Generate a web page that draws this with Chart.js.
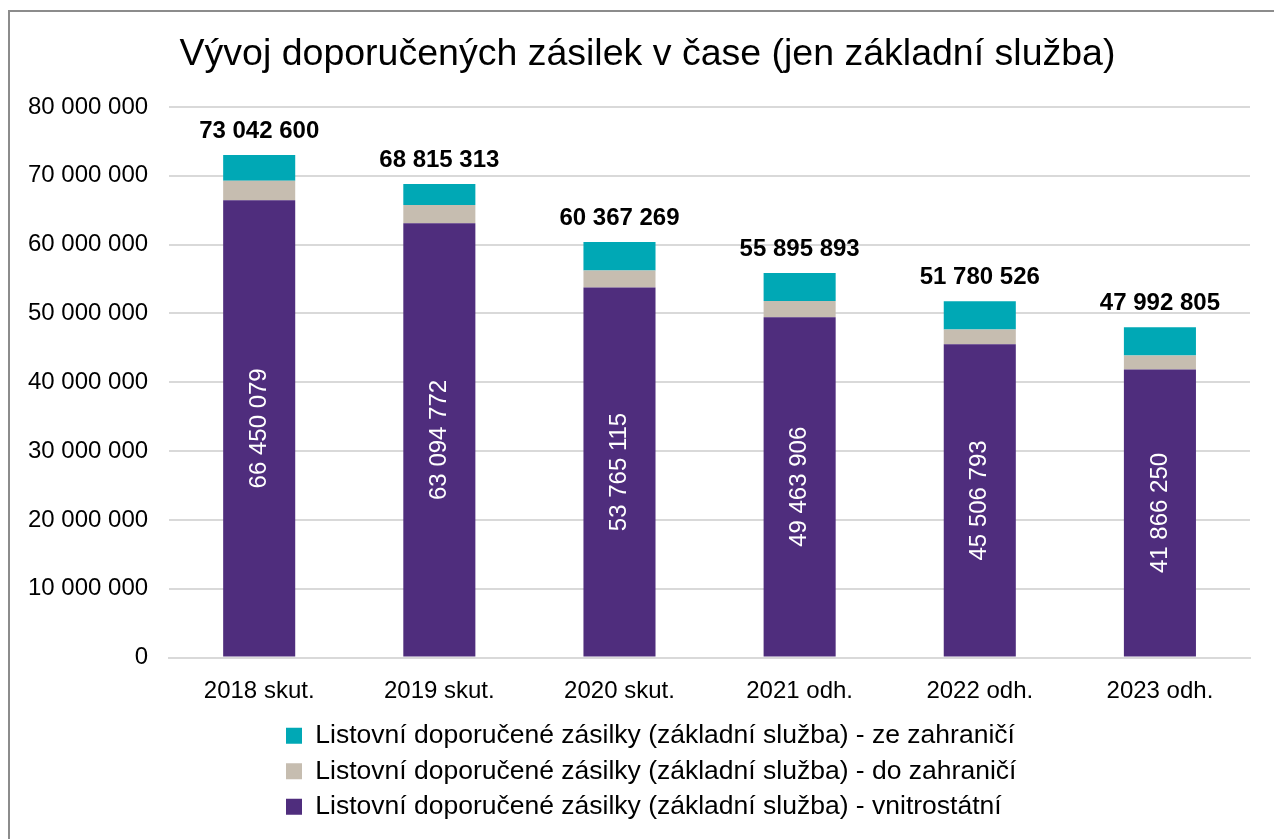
<!DOCTYPE html>
<html>
<head>
<meta charset="utf-8">
<script src="https://cdn.jsdelivr.net/npm/chart.js@4.4.0/dist/chart.umd.min.js"></script>
<style>
	html, body { margin: 0; padding: 0; background: #fff; overflow: hidden; }
	#frame {
		position: absolute; left: 8px; top: 10px; width: 1266px; height: 829px;
		border-top: 2px solid #8c8c8c; border-left: 2px solid #8c8c8c;
		box-sizing: border-box;
	}
	#barChart { position: absolute; left: 0; top: 0; }
</style>
</head>
<body>
<div id="frame"></div>
<canvas id="barChart" width="1274" height="839"></canvas>
<script>
const categories = ['2018 skut.', '2019 skut.', '2020 skut.', '2021 odh.', '2022 odh.', '2023 odh.'];
const vnitrostatni = [66450079, 63094772, 53765115, 49463906, 45506793, 41866250];
const doZahranici = [2840000, 2650000, 2460000, 2330000, 2160000, 2010000];
const zeZahranici = [3750000, 3070000, 4140000, 4100000, 4110000, 4120000];
const totals = [73042600, 68815313, 60367269, 55895893, 51780526, 47992805];

const fmt = v => String(Math.round(v)).replace(/\B(?=(\d{3})+(?!\d))/g, ' ');
const FONT = '"Liberation Sans", Arial, sans-serif';

const labelPlugin = {
	id: 'labels',
	afterLayout(chart) {
		// title centred a bit more to the right, legend rows left-aligned
		chart.titleBlock.left = 45;
		chart.titleBlock.right = 1250;
		chart.legend.left = 277;
	},
	afterDatasetsDraw(chart) {
		const ctx = chart.ctx;
		const purple = chart.getDatasetMeta(0);
		const top = chart.getDatasetMeta(2);
		ctx.save();
		ctx.textAlign = 'center';
		ctx.textBaseline = 'middle';
		purple.data.forEach((bar, i) => {
			const cy = (bar.y + bar.base) / 2;
			ctx.save();
			ctx.translate(bar.x, cy);
			ctx.rotate(-Math.PI / 2);
			ctx.fillStyle = '#ffffff';
			ctx.font = '24px ' + FONT;
			ctx.fillText(fmt(vnitrostatni[i]), 0, 0);
			ctx.restore();
		});
		top.data.forEach((bar, i) => {
			ctx.fillStyle = '#000000';
			ctx.font = 'bold 24px ' + FONT;
			ctx.fillText(fmt(totals[i]), bar.x, bar.y - 24);
		});
		ctx.restore();
	}
};

new Chart(document.getElementById('barChart'), {
	type: 'bar',
	data: {
		labels: categories,
		datasets: [
			{
				label: 'Listovní doporučené zásilky (základní služba) - vnitrostátní',
				data: vnitrostatni,
				backgroundColor: '#4f2d7d'
			},
			{
				label: 'Listovní doporučené zásilky (základní služba) - do zahraničí',
				data: doZahranici,
				backgroundColor: '#c6bdb0'
			},
			{
				label: 'Listovní doporučené zásilky (základní služba) - ze zahraničí',
				data: zeZahranici,
				backgroundColor: '#00a8b5'
			}
		]
	},
	options: {
		responsive: false,
		animation: false,
		devicePixelRatio: 1,
		layout: { padding: { left: 25, right: 24, top: 0, bottom: 9 } },
		datasets: { bar: { barPercentage: 0.4, categoryPercentage: 1 } },
		scales: {
			x: {
				stacked: true,
				grid: { display: false },
				border: { color: '#d9d9d9', width: 2 },
				ticks: { color: '#000', maxRotation: 0, font: { size: 24, family: FONT }, padding: 11 },
				afterFit: s => { s.height = 56; }
			},
			y: {
				stacked: true,
				min: 0,
				max: 80000000,
				border: { display: false },
				grid: { color: '#d9d9d9', lineWidth: 2, tickLength: 18, tickColor: 'transparent' },
				ticks: {
					stepSize: 10000000,
					padding: 3,
					color: '#000',
					font: { size: 24, family: FONT },
					callback: v => fmt(v)
				}
			}
		},
		plugins: {
			title: {
				display: true,
				text: 'Vývoj doporučených zásilek v čase (jen základní služba)',
				color: '#000',
				font: { size: 37.5, weight: 'normal', family: FONT },
				padding: { top: 32, bottom: 30 }
			},
			legend: {
				position: 'bottom',
				align: 'start',
				reverse: true,
				labels: {
					color: '#000',
					boxWidth: 16,
					boxHeight: 16,
					padding: 9,
					font: { size: 26.5, family: FONT }
				}
			},
			tooltip: { enabled: false }
		}
	},
	plugins: [labelPlugin]
});
</script>
</body>
</html>
